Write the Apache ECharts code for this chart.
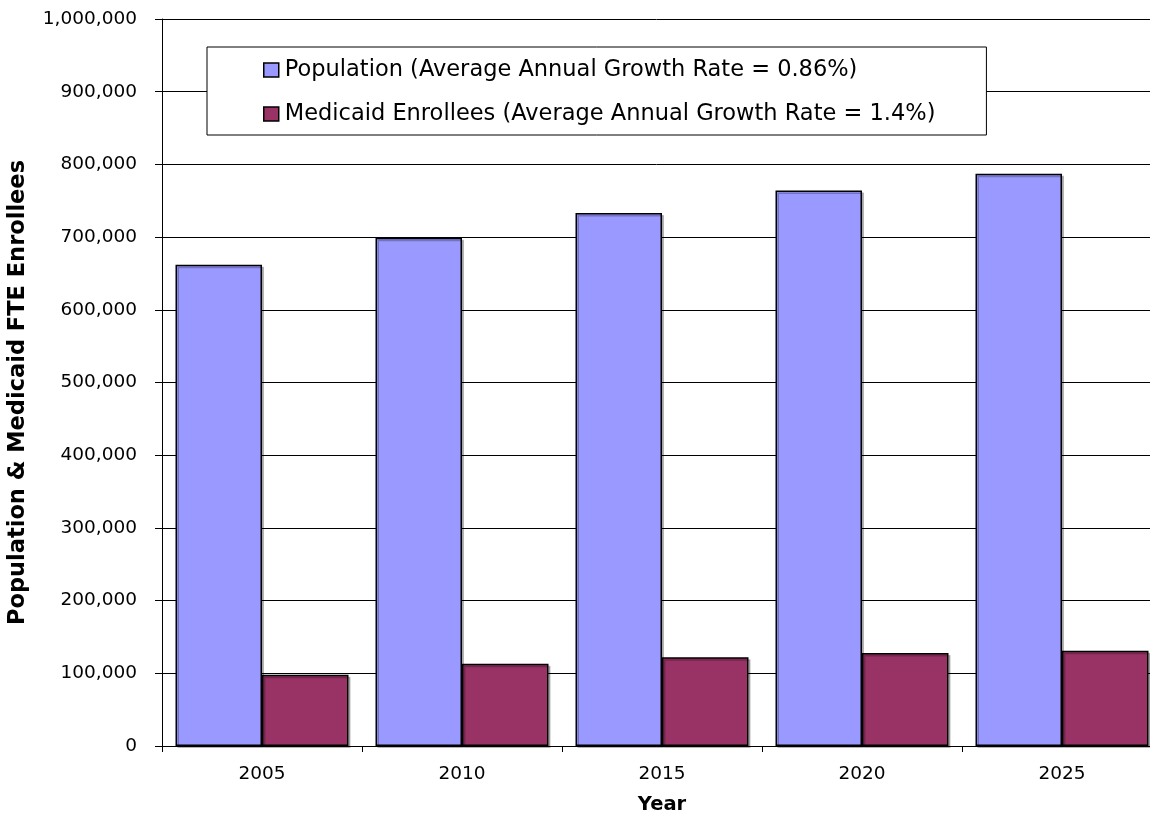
<!DOCTYPE html>
<html>
<head>
<meta charset="utf-8">
<script src="https://cdn.jsdelivr.net/npm/echarts@6/dist/echarts.min.js"></script>
<style>html,body{margin:0;padding:0;background:#fff;overflow:hidden;}#c{width:1150px;height:819px;}</style>
</head>
<body>
<div id="c"></div>
<script>
const years = ['2005', '2010', '2015', '2020', '2025'];
const population = [662000, 699000, 733000, 764000, 787000];
const medicaid = [98000, 113000, 122000, 128000, 131000];
const seriesNames = [
  'Population (Average Annual Growth Rate = 0.86%)',
  'Medicaid Enrollees (Average Annual Growth Rate = 1.4%)'
];
const yTicks = { min: 0, max: 1000000, interval: 100000 };

const FONT = '"DejaVu Sans", Verdana, sans-serif';
const chart = echarts.init(document.getElementById('c'), null, { renderer: 'canvas' });
chart.setOption({
  animation: false,
  backgroundColor: '#fff',
  grid: { left: 162, width: 1000, top: 19, bottom: 73, containLabel: false, outerBoundsMode: 'none' },
  legend: {
    orient: 'vertical',
    left: 207, top: 47,
    padding: [11, 51, 9, 56],
    itemGap: 20,
    itemWidth: 15, itemHeight: 14,
    backgroundColor: '#fff',
    borderColor: '#000', borderWidth: 1,
    textStyle: { fontFamily: FONT, fontSize: 22.5, lineHeight: 24, color: '#000', padding: [0, 0, 0, 1] },
    data: seriesNames.map(n => ({ name: n, icon: 'rect', itemStyle: { borderColor: '#000', borderWidth: 1.5 } }))
  },
  xAxis: {
    type: 'category',
    data: years,
    name: 'Year',
    nameLocation: 'middle',
    nameGap: 49,
    nameTextStyle: { fontFamily: FONT, fontSize: 19.5, fontWeight: 'bold', color: '#000' },
    axisLine: { lineStyle: { color: '#000', width: 1 } },
    axisTick: { show: true, length: 6, alignWithLabel: false, lineStyle: { color: '#000' } },
    axisLabel: { fontFamily: FONT, fontSize: 18.5, color: '#000', margin: 19 },
    splitLine: { show: false }
  },
  yAxis: {
    type: 'value',
    min: yTicks.min, max: yTicks.max, interval: yTicks.interval,
    name: 'Population & Medicaid FTE Enrollees',
    nameLocation: 'middle',
    nameGap: 132,
    nameTextStyle: { fontFamily: FONT, fontSize: 22.5, fontWeight: 'bold', color: '#000', padding: [0, 20, 0, 0] },
    axisLine: { show: true, lineStyle: { color: '#000', width: 1 } },
    axisTick: { show: true, inside: false, length: 7, lineStyle: { color: '#000' } },
    axisLabel: {
      fontFamily: FONT, fontSize: 18.5, color: '#000', margin: 25,
      formatter: v => v.toLocaleString('en-US')
    },
    splitLine: { show: true, lineStyle: { color: '#000', width: 1 } }
  },
  series: [
    {
      name: seriesNames[0], type: 'bar', data: population,
      barGap: '0%', barCategoryGap: '13.5%',
      itemStyle: { color: '#9999FF', borderColor: '#000', borderWidth: 1.5,
        shadowColor: 'rgba(0,0,0,0.25)', shadowOffsetX: 2, shadowOffsetY: 2 }
    },
    {
      name: seriesNames[1], type: 'bar', data: medicaid,
      barGap: '0%', barCategoryGap: '13.5%',
      itemStyle: { color: '#993366', borderColor: '#000', borderWidth: 1.5,
        shadowColor: 'rgba(0,0,0,0.25)', shadowOffsetX: 2, shadowOffsetY: 2 }
    }
  ]
});
</script>
</body>
</html>
